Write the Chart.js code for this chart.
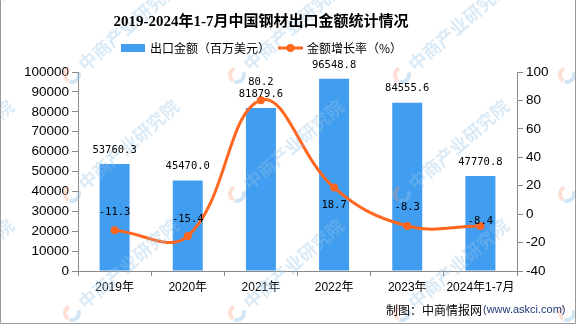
<!DOCTYPE html>
<html>
<head>
<meta charset="utf-8">
<script src="https://cdn.jsdelivr.net/npm/chart.js@4.4.1/dist/chart.umd.min.js"></script>
<style>
html, body { margin: 0; padding: 0; background: #fff; }
canvas { display: block; }
</style>
</head>
<body>
<canvas id="myChart" width="576" height="324"></canvas>
<script>
// data
const years = ['2019年', '2020年', '2021年', '2022年', '2023年', '2024年1-7月'];
const exportValue = [53760.3, 45470.0, 81879.6, 96548.8, 84555.6, 47770.8];
const growthRate = [-11.3, -15.4, 80.2, 18.7, -8.3, -8.4];
const leftTicks = [0, 10000, 20000, 30000, 40000, 50000, 60000, 70000, 80000, 90000, 100000];
const rightTicks = [-40, -20, 0, 20, 40, 60, 80, 100];

// where each growth label sits relative to its point (px)
const rateLabelDy = [-18, -17, -18, 18, -19, -5];

const barColor = '#409DF0';
const lineColor = '#FF661F';
const axisColor = '#8a8a8a';

function drawWatermark(ctx) {
	ctx.save();
	const xs = [-93, 72, 237, 402, 567];
	const ys = [-45, 75, 194, 313];
	xs.forEach(x0 => {
		ys.forEach(y0 => {
			ctx.save();
			ctx.translate(x0, y0);
			ctx.rotate(-41 * Math.PI / 180);
			ctx.lineWidth = 4;
			ctx.strokeStyle = 'rgba(250,150,120,0.3)';
			ctx.beginPath();
			ctx.arc(0, 0, 7, Math.PI * 0.9, Math.PI * 1.6);
			ctx.stroke();
			ctx.strokeStyle = 'rgba(140,190,230,0.4)';
			ctx.beginPath();
			ctx.arc(0, 0, 7, Math.PI * 0.1, Math.PI * 0.85);
			ctx.stroke();
			ctx.font = "bold 18px 'Noto Sans CJK SC'";
			ctx.fillStyle = 'rgba(150,195,230,0.35)';
			ctx.textBaseline = 'middle';
			ctx.fillText('中商产业研究院', 12, 0);
			ctx.restore();
		});
	});
	ctx.restore();
}

const labelsPlugin = {
	id: 'labels',
	afterDatasetsDraw(chart) {
		const ctx = chart.ctx;
		drawWatermark(ctx);
		ctx.save();
		ctx.font = "10.5px 'DejaVu Sans Mono'";
		ctx.fillStyle = '#000';
		ctx.textAlign = 'center';
		ctx.textBaseline = 'middle';
		chart.getDatasetMeta(0).data.forEach((bar, i) => {
			ctx.fillText(exportValue[i].toFixed(1), bar.x, bar.y - 14);
		});
		chart.getDatasetMeta(1).data.forEach((pt, i) => {
			ctx.fillText(growthRate[i].toFixed(1), pt.x, pt.y + rateLabelDy[i]);
		});
		ctx.restore();
	}
};

const framePlugin = {
	id: 'frame',
	afterDraw(chart) {
		const ctx = chart.ctx;
		ctx.save();
		// title
		ctx.fillStyle = '#000';
		ctx.textAlign = 'center';
		ctx.textBaseline = 'middle';
		ctx.font = "bold 15px 'Liberation Serif', 'Noto Sans CJK SC'";
		ctx.fillText('2019-2024年1-7月中国钢材出口金额统计情况', 261, 22);

		// legend
		ctx.textAlign = 'left';
		ctx.font = "12px 'Noto Sans CJK SC'";
		ctx.fillStyle = barColor;
		ctx.fillRect(121, 44, 24, 8);
		ctx.fillStyle = '#000';
		ctx.fillText('出口金额（百万美元）', 150, 48);
		ctx.strokeStyle = lineColor;
		ctx.lineWidth = 3;
		ctx.beginPath();
		ctx.moveTo(278, 48);
		ctx.lineTo(303, 48);
		ctx.stroke();
		ctx.fillStyle = lineColor;
		ctx.beginPath();
		ctx.arc(290.5, 48, 4, 0, Math.PI * 2);
		ctx.fill();
		ctx.fillStyle = '#000';
		ctx.fillText('金额增长率（%）', 307, 48);

		// source
		ctx.font = "12px 'Noto Sans CJK SC'";
		ctx.fillText('制图：中商情报网', 386, 310);
		ctx.font = "11px 'Liberation Sans'";
		ctx.fillStyle = '#1d3a78';
		ctx.fillText('(www.askci.com)', 483, 310);

		// outer frame
		ctx.strokeStyle = '#9a9a9a';
		ctx.lineWidth = 1;
		ctx.beginPath();
		ctx.moveTo(0.5, 0);
		ctx.lineTo(0.5, 323.5);
		ctx.lineTo(575.5, 323.5);
		ctx.lineTo(575.5, 0);
		ctx.stroke();
		ctx.restore();
	}
};

const ctx = document.getElementById('myChart').getContext('2d');
const myChart = new Chart(ctx, {
	data: {
		labels: years,
		datasets: [{
			type: 'bar',
			label: '出口金额（百万美元）',
			data: exportValue,
			yAxisID: 'y',
			backgroundColor: barColor,
			categoryPercentage: 1,
			barPercentage: 0.41,
			order: 2
		}, {
			type: 'line',
			label: '金额增长率（%）',
			data: growthRate,
			yAxisID: 'y1',
			borderColor: lineColor,
			backgroundColor: lineColor,
			borderWidth: 3,
			pointRadius: 4,
			pointBackgroundColor: lineColor,
			pointBorderWidth: 0,
			tension: 0.4,
			order: 1
		}]
	},
	options: {
		responsive: false,
		animation: false,
		layout: {
			padding: { top: 72, left: 0, right: 0, bottom: 0 }
		},
		plugins: {
			legend: { display: false },
			title: { display: false },
			tooltip: { enabled: false }
		},
		scales: {
			x: {
				offset: true,
				afterFit: s => { s.height = 53; },
				grid: {
					offset: true,
					drawOnChartArea: false,
					drawTicks: true,
					tickLength: 5,
					color: axisColor
				},
				border: { color: axisColor, width: 1 },
				ticks: {
					color: '#000',
					padding: 4,
					maxRotation: 0,
					font: { family: "'Liberation Sans', 'Noto Sans CJK SC'", size: 12 }
				}
			},
			y: {
				position: 'left',
				min: leftTicks[0],
				max: leftTicks[leftTicks.length - 1],
				afterFit: s => { s.width = 78; },
				afterBuildTicks: s => { s.ticks = leftTicks.map(v => ({ value: v })); },
				grid: {
					drawOnChartArea: false,
					drawTicks: true,
					tickLength: 6,
					color: axisColor
				},
				border: { color: axisColor, width: 1 },
				ticks: {
					color: '#000',
					padding: 3,
					font: { family: "'Liberation Sans'", size: 13.5 },
					callback: v => String(v)
				}
			},
			y1: {
				position: 'right',
				min: rightTicks[0],
				max: rightTicks[rightTicks.length - 1],
				afterFit: s => { s.width = 59; },
				afterBuildTicks: s => { s.ticks = rightTicks.map(v => ({ value: v })); },
				grid: {
					drawOnChartArea: false,
					drawTicks: true,
					tickLength: 6,
					color: axisColor
				},
				border: { color: axisColor, width: 1 },
				ticks: {
					color: '#000',
					padding: 3,
					font: { family: "'Liberation Sans'", size: 13.5 },
					callback: v => String(v)
				}
			}
		}
	},
	plugins: [labelsPlugin, framePlugin]
});
</script>
</body>
</html>
